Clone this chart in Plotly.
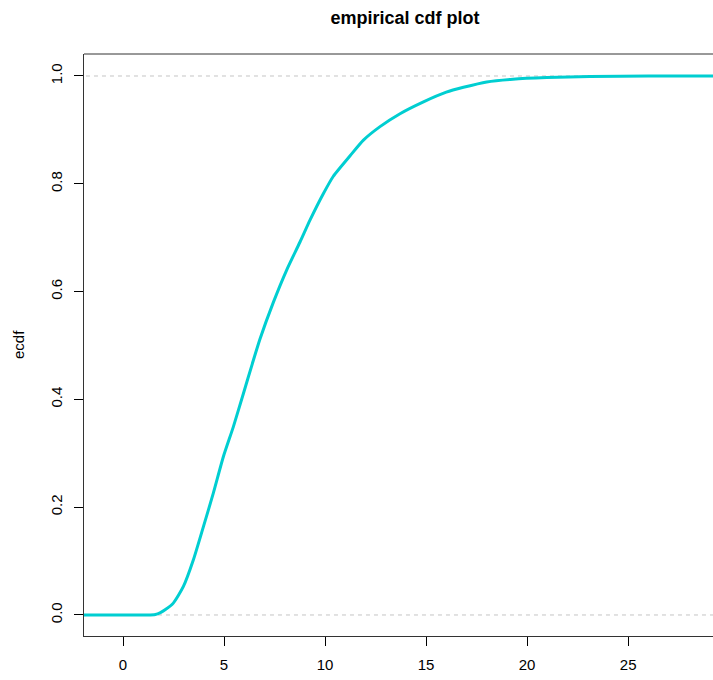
import plotly.graph_objects as go

# ECDF curve
x_vals = [-2.5, 0.0, 1.2, 1.6, 1.83, 2.1, 2.49, 2.99, 3.48, 3.98, 4.47, 4.97, 5.46, 5.96,
          6.4, 6.78, 7.44, 8.1, 8.76, 9.26, 9.92, 10.41, 11.24, 11.9, 12.72, 13.71,
          14.87, 16.0, 16.85, 18.0, 19.3, 20.97, 23.1, 26.0, 31.0]
y_vals = [0.0, 0.0, 0.0, 0.001, 0.004, 0.010, 0.022, 0.053, 0.102, 0.164, 0.226, 0.294, 0.349, 0.411,
          0.466, 0.512, 0.580, 0.640, 0.692, 0.733, 0.782, 0.814, 0.852, 0.881, 0.906, 0.930,
          0.952, 0.970, 0.979, 0.989, 0.994, 0.997, 0.999, 1.0, 1.0]

x_ticks = [0, 5, 10, 15, 20, 25]
y_ticks = [0.0, 0.2, 0.4, 0.6, 0.8, 1.0]
y_tick_labels = ["0.0", "0.2", "0.4", "0.6", "0.8", "1.0"]
ref_levels = [0.0, 1.0]

FONT = "Liberation Sans, Arial, Helvetica, sans-serif"

fig = go.Figure()
for lvl in ref_levels:
    fig.add_trace(go.Scatter(x=[-5, 40], y=[lvl, lvl], mode="lines",
                             line=dict(color="#C4C4C4", width=1, dash="4px,4px"),
                             hoverinfo="skip", showlegend=False))
fig.add_trace(go.Scatter(x=x_vals, y=y_vals, mode="lines",
                         line=dict(color="#00CED1", width=3, shape="spline", smoothing=0.6),
                         showlegend=False))

fig.add_shape(type="line", xref="paper", yref="paper", x0=0, x1=1, y0=1, y1=1,
              line=dict(color="#333333", width=1))

fig.update_layout(
    width=713, height=680,
    margin=dict(l=84, r=0, t=54, b=44),
    paper_bgcolor="white", plot_bgcolor="white",
    font=dict(family=FONT, size=15, color="black"),
    title=dict(text="<b>empirical cdf plot</b>", font=dict(family=FONT, size=18, color="black"),
               xref="container", x=405/713, xanchor="center",
               yref="container", y=1 - 18/680, yanchor="middle"),
    xaxis=dict(range=[-1.93, 29.2], tickvals=x_ticks, showgrid=False, zeroline=False,
               showline=True, linecolor="#333333", linewidth=1,
               ticks="outside", ticklen=9, tickcolor="black", tickwidth=1,
               tickfont=dict(size=15), ticklabelstandoff=6),
    yaxis=dict(range=[-0.039, 1.0408], tickvals=y_ticks, ticktext=y_tick_labels,
               showgrid=False, zeroline=False,
               showline=True, linecolor="#333333", linewidth=1,
               ticks="outside", ticklen=9, tickcolor="black", tickwidth=1,
               tickangle=-90, tickfont=dict(size=15), ticklabelstandoff=6),
    annotations=[dict(text="ecdf", xref="paper", yref="paper",
                      x=(18 - 84) / 629, y=0.5, xanchor="center", yanchor="middle",
                      textangle=-90, showarrow=False, font=dict(size=15))],
)

fig.write_html("out.html")
